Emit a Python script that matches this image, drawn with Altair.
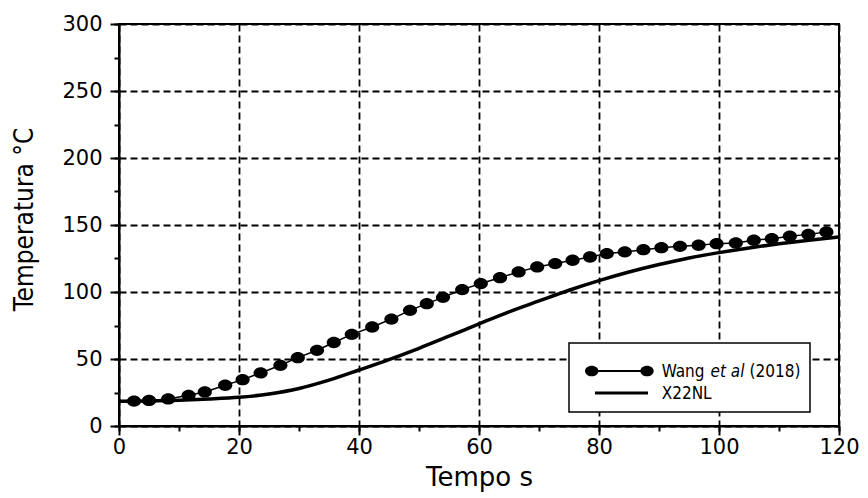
import altair as alt
import pandas as pd

# Measured heating curve (Wang et al, 2018): time [s], temperature [°C]
wang_t = [2.5, 5.0, 8.2, 11.6, 14.3, 17.7, 20.6, 23.6, 26.9, 29.8, 33.0, 35.8, 38.8,
          42.2, 45.4, 48.5, 51.3, 54.0, 57.2, 60.3, 63.5, 66.6, 69.7, 72.7, 75.6,
          78.5, 81.3, 84.3, 87.4, 90.4, 93.5, 96.6, 99.6, 102.8, 105.8, 108.8,
          111.8, 114.9, 117.9]
wang_T = [18.6, 19.1, 20.2, 22.9, 25.4, 30.4, 34.6, 39.6, 45.3, 51.0, 56.5, 62.3, 68.4,
          73.9, 79.8, 86.3, 91.3, 96.0, 101.8, 106.3, 110.7, 115.0, 118.7, 121.2, 123.7,
          126.1, 128.7, 129.9, 131.6, 133.1, 134.1, 134.9, 136.1, 136.6, 138.6, 139.8,
          141.6, 143.0, 144.8]

# Simulated curve (X22NL)
x22_t = [0, 5, 10, 15, 20, 25, 30, 35, 40, 45, 50, 55, 60, 65, 70, 75, 80, 85, 90,
         95, 100, 105, 110, 115, 120]
x22_T = [18.5, 18.7, 19.2, 20.1, 21.4, 23.9, 28.0, 34.2, 41.8, 49.6, 58.0, 67.0, 76.2,
         85.2, 93.3, 101.3, 108.5, 114.9, 120.5, 125.4, 129.4, 132.9, 136.0, 138.7, 141.0]

x_major = [0, 20, 40, 60, 80, 100, 120]
x_minor = list(range(0, 121, 10))
y_major = [0, 50, 100, 150, 200, 250, 300]
y_minor = list(range(0, 301, 25))

wang = pd.DataFrame({"t": wang_t, "T": wang_T})
x22 = pd.DataFrame({"t": x22_t, "T": x22_T})
one = pd.DataFrame({"k": [0]})

TICK_FONT = "DejaVu Sans"
LEG_FONT = "DejaVu Sans Condensed, Liberation Sans Narrow, Liberation Sans"
ELLIPSE = ("M-1,0 C-1,-0.442 -0.5523,-0.8 0,-0.8 C0.5523,-0.8 1,-0.442 1,0 "
           "C1,0.442 0.5523,0.8 0,0.8 C-0.5523,0.8 -1,0.442 -1,0 Z")

W, H = 720, 402
x_scale = alt.Scale(domain=[0, 120], nice=False, zero=False)
y_scale = alt.Scale(domain=[0, 300], nice=False, zero=False)

x_axis = alt.Axis(
    values=x_major, title="Tempo s", orient="bottom",
    grid=True, gridDash=[7, 4], gridColor="black", gridWidth=1.8, gridOpacity=1,
    domainColor="black", domainWidth=2,
    tickSize=9, tickWidth=2, tickColor="black",
    labelFont=TICK_FONT, labelFontSize=21, labelColor="black", labelPadding=1,
    labelFlush=False,
    titleFont=TICK_FONT, titleFontSize=26, titleFontWeight="normal", titleColor="black",
    titleX=W / 2, titleY=59, titleAlign="center", titleBaseline="alphabetic",
)
y_axis = alt.Axis(
    values=y_major, title="Temperatura °C", orient="left",
    grid=True, gridDash=[7, 4], gridColor="black", gridWidth=1.8, gridOpacity=1,
    domainColor="black", domainWidth=2,
    tickSize=9, tickWidth=2, tickColor="black",
    labelFont=TICK_FONT, labelFontSize=21, labelColor="black", labelPadding=8,
    labelFlush=False,
    titleFont=LEG_FONT, titleFontSize=26, titleFontWeight="normal", titleColor="black",
    titleAngle=270, titleX=-86.5, titleY=195, titleAlign="center",
    titleBaseline="alphabetic",
)

# Simulated curve with the main axes and dashed grid
sim = alt.Chart(x22).mark_line(color="black", strokeWidth=3.5, interpolate="monotone").encode(
    x=alt.X("t:Q", scale=x_scale, axis=x_axis),
    y=alt.Y("T:Q", scale=y_scale, axis=y_axis),
)

# Minor ticks on a second, label-free axis pair
minor = alt.Chart(x22).mark_point(opacity=0).encode(
    x=alt.X("t:Q", scale=x_scale, axis=alt.Axis(
        values=x_minor, orient="bottom", labels=False, grid=False, domain=False,
        tickSize=5, tickWidth=2, tickColor="black", title="")),
    y=alt.Y("T:Q", scale=y_scale, axis=alt.Axis(
        values=y_minor, orient="left", labels=False, grid=False, domain=False,
        tickSize=5, tickWidth=2, tickColor="black", title="")),
)

# Measured points joined by a thin line
meas_line = alt.Chart(wang).mark_line(color="black", strokeWidth=1.5).encode(
    x=alt.X("t:Q", scale=x_scale, axis=None),
    y=alt.Y("T:Q", scale=y_scale, axis=None),
)
meas_pts = alt.Chart(wang).mark_point(
    shape=ELLIPSE, filled=True, size=200, color="black", opacity=1
).encode(
    x=alt.X("t:Q", scale=x_scale, axis=None),
    y=alt.Y("T:Q", scale=y_scale, axis=None),
)

# Legend box
leg_box = alt.Chart(one).mark_rect(fill="white", stroke="black", strokeWidth=1.5).encode(
    x=alt.value(450), x2=alt.value(691), y=alt.value(319), y2=alt.value(388)
)
leg_rule1 = alt.Chart(one).mark_rule(color="black", strokeWidth=2).encode(
    x=alt.value(472.7), x2=alt.value(528), y=alt.value(347)
)


def leg_dot(x):
    return alt.Chart(one).mark_point(
        shape=ELLIPSE, filled=True, size=180, color="black", opacity=1
    ).encode(x=alt.value(x), y=alt.value(347))


leg_rule2 = alt.Chart(one).mark_rule(color="black", strokeWidth=3).encode(
    x=alt.value(476), x2=alt.value(529), y=alt.value(369)
)


def leg_text(txt, x, y, style="normal"):
    return alt.Chart(one).mark_text(
        align="left", baseline="alphabetic", font=LEG_FONT, fontSize=17,
        fontStyle=style, color="black"
    ).encode(x=alt.value(x), y=alt.value(y), text=alt.value(txt))


legend = (leg_box + leg_rule1 + leg_dot(472.7) + leg_dot(528) + leg_rule2
          + leg_text("Wang", 542.7, 353)
          + leg_text("et al", 591.5, 353, "italic")
          + leg_text("(2018)", 630.5, 353)
          + leg_text("X22NL", 542.7, 374.5))

chart = alt.layer(sim, minor, meas_line, meas_pts, legend).resolve_axis(
    x="independent", y="independent"
).resolve_scale(
    x="shared", y="shared"
).properties(
    width=W, height=H,
    autosize=alt.AutoSizeParams(type="none"),
    padding={"left": 119, "top": 24, "right": 29, "bottom": 72},
    background="white",
).configure_view(
    stroke="black", strokeWidth=2
)

chart.save("out.html", embed_options={"renderer": "svg", "actions": False})
